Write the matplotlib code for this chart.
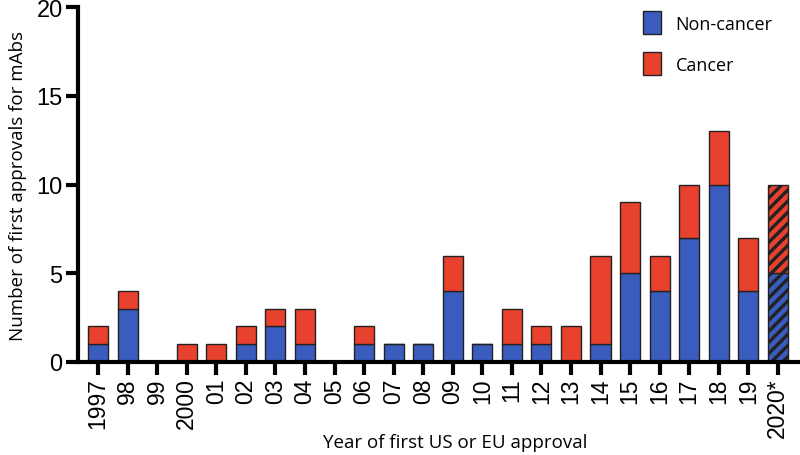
import matplotlib
matplotlib.use("Agg")
import matplotlib.pyplot as plt
from matplotlib.patches import Patch

years = ["1997", "98", "99", "2000", "01", "02", "03", "04", "05", "06", "07", "08",
         "09", "10", "11", "12", "13", "14", "15", "16", "17", "18", "19", "2020*"]
non_cancer = [1, 3, 0, 0, 0, 1, 2, 1, 0, 1, 1, 1, 4, 1, 1, 1, 0, 1, 5, 4, 7, 10, 4, 5]
cancer = [1, 1, 0, 1, 1, 1, 1, 2, 0, 1, 0, 0, 2, 0, 2, 1, 2, 5, 4, 2, 3, 3, 3, 5]

blue = "#3b5cbf"
red = "#e8412d"
plt.rcParams["font.family"] = ["Liberation Sans", "DejaVu Sans"]
plt.rcParams["hatch.linewidth"] = 2.4

fig = plt.figure(figsize=(8, 4.56), dpi=100)
ax = fig.add_axes([0.0975, 0.204, 0.9025, 0.778])

x = list(range(len(years)))
w = 0.68
b1 = ax.bar(x, non_cancer, w, color=blue, edgecolor="#222222", linewidth=1)
b2 = ax.bar(x, cancer, w, bottom=non_cancer, color=red, edgecolor="#222222", linewidth=1)
# projected 2020 bars are hatched
b1[-1].set_hatch("///")
b2[-1].set_hatch("///")

ax.set_xlim(-0.68, len(years) - 0.25)
ax.set_ylim(0, 20)
ax.set_yticks([0, 5, 10, 15, 20])
ax.set_xticks(x)
ax.set_xticklabels(years, rotation=90, fontsize=16.5)
ax.tick_params(axis="y", labelsize=17, width=3, length=9, pad=2)
ax.tick_params(axis="x", width=3, length=9, pad=2)
for s in ["top", "right"]:
    ax.spines[s].set_visible(False)
for s in ["left", "bottom"]:
    ax.spines[s].set_linewidth(3)

fig.text(0.569, 0.028, "Year of first US or EU approval", fontsize=13.5,
         ha="center", va="center", family=["Open Sans", "DejaVu Sans"])
ax.set_ylabel("Number of first approvals for mAbs", fontsize=13.5, family=["Open Sans", "DejaVu Sans"])
ax.yaxis.set_label_coords(-0.07, 0.5)

handles = [Patch(facecolor=blue, edgecolor="#222222"), Patch(facecolor=red, edgecolor="#222222")]
ax.legend(handles, ["Non-cancer", "Cancer"], loc="upper left", bbox_to_anchor=(0.76, 1.035),
          frameon=False, handlelength=1.0, handleheight=1.6, labelspacing=1.0,
          prop={"family": ["Open Sans", "DejaVu Sans"], "size": 13})

fig.savefig("out.png", dpi=100)
